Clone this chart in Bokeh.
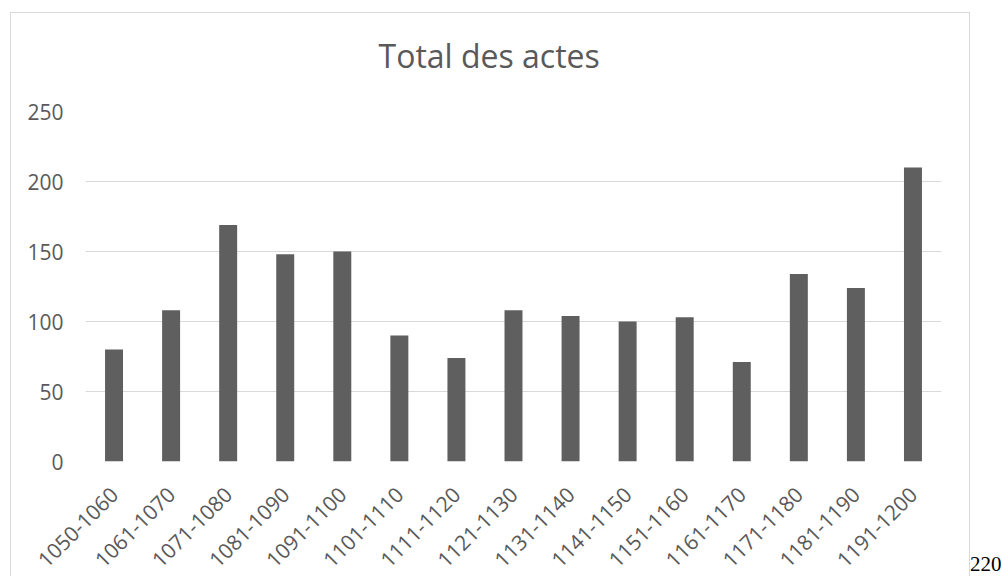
import math
from bokeh.plotting import figure
from bokeh.models import FactorRange, Range1d, FixedTicker, Div, Title
from bokeh.layouts import row
from bokeh.embed import file_html
from bokeh.resources import INLINE

categories = ["1050-1060", "1061-1070", "1071-1080", "1081-1090", "1091-1100",
              "1101-1110", "1111-1120", "1121-1130", "1131-1140", "1141-1150",
              "1151-1160", "1161-1170", "1171-1180", "1181-1190", "1191-1200"]
totals = [80, 108, 169, 148, 150, 90, 74, 108, 104, 100, 103, 71, 134, 124, 210]
y_ticks = [0, 50, 100, 150, 200, 250]
title_text = "Total des actes"
side_note = "220"

TEXT = "#595959"
GRID = "#d9d9d9"
FONT = "Open Sans"

p = figure(x_range=FactorRange(factors=categories), y_range=Range1d(0, 250),
           width=960, height=564, output_backend="svg", toolbar_location=None,
           min_border_left=74, min_border_right=30, min_border_top=98, min_border_bottom=116)

p.vbar(x=categories, top=totals, width=0.315, fill_color="#5f5f5f", line_color=None)

p.outline_line_color = None
p.background_fill_color = "white"
p.border_fill_color = "white"

p.title.text = title_text
p.title.align = "left"
p.title.offset = 293
p.title.standoff = 10
p.title.text_font = FONT
p.title.text_font_size = "32px"
p.title.text_font_style = "normal"
p.title.text_color = TEXT

# empty spacer panel between the plot area and the title
p.add_layout(Title(text=" ", text_font_size="10px", standoff=17), "above")

p.xgrid.grid_line_color = None
p.ygrid.ticker = FixedTicker(ticks=y_ticks)
p.ygrid.grid_line_color = GRID
p.ygrid.grid_line_width = 1

p.yaxis.ticker = FixedTicker(ticks=y_ticks)
for ax in (p.xaxis, p.yaxis):
    ax.axis_line_color = None
    ax.major_tick_line_color = None
    ax.minor_tick_line_color = None
    ax.major_tick_out = 0
    ax.major_label_text_font = FONT
    ax.major_label_text_font_size = "21px"
    ax.major_label_text_color = TEXT
p.yaxis.major_label_standoff = 22
p.xaxis.major_label_standoff = 29
p.xaxis.major_label_orientation = math.pi / 4

p.styles = {"border": "1px solid #d9d9d9", "border-bottom": "none"}
p.margin = (12, 0, 0, 10)

note = Div(text=side_note, width=31, height=22, margin=(553, 0, 0, 0),
           styles={"font-family": "Liberation Serif", "font-size": "21px",
                   "color": "black", "line-height": "22px"})

layout = row(p, note)

open("out.html", "w").write(file_html(layout, INLINE))
